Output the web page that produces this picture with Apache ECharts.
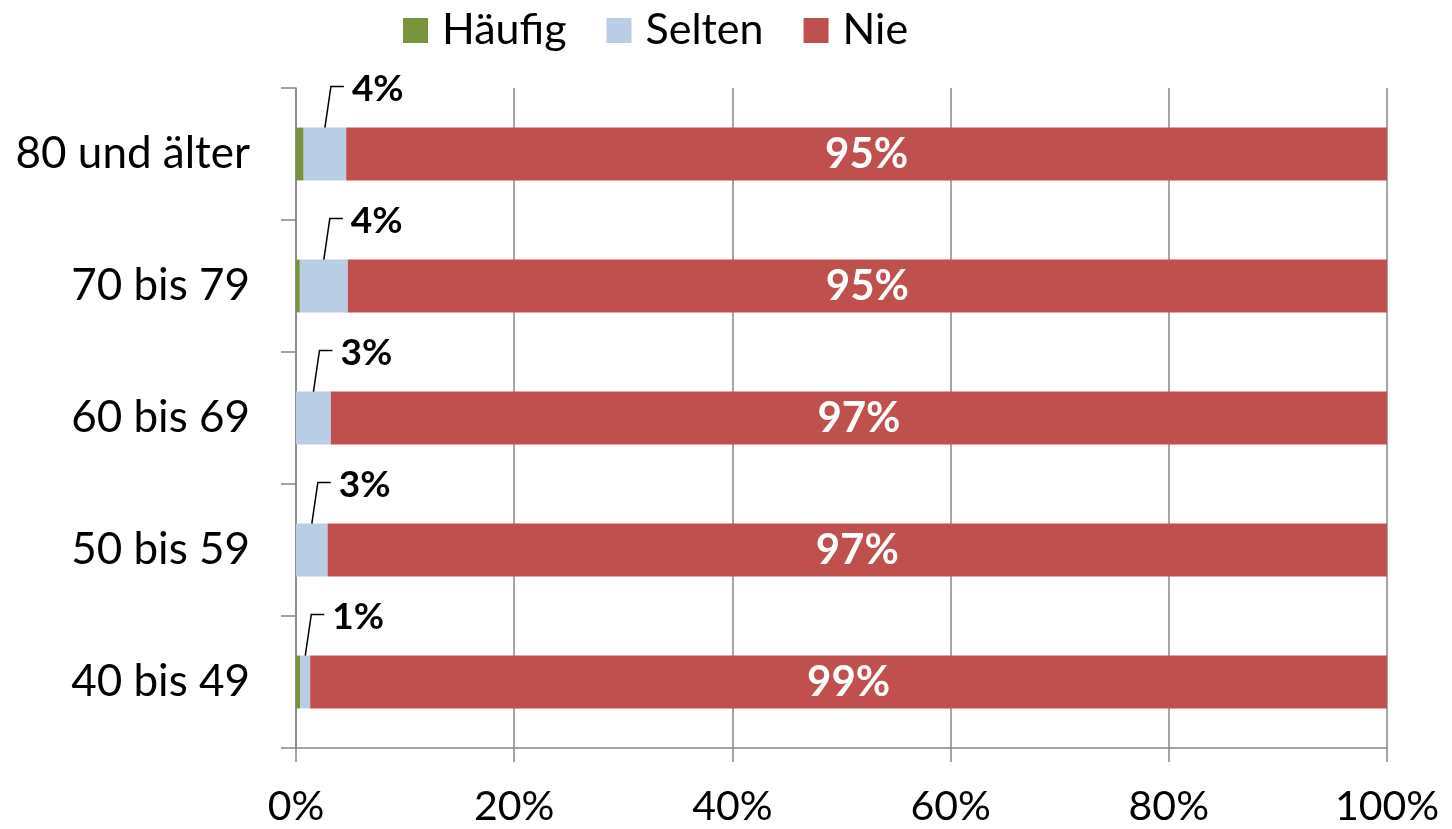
<!DOCTYPE html>
<html>
<head>
<meta charset="utf-8">
<script src="https://cdn.jsdelivr.net/npm/echarts@6/dist/echarts.min.js"></script>
<style>
html,body{margin:0;padding:0;background:#fff;}
#chart{width:1452px;height:829px;}
</style>
</head>
<body>
<div id="chart"></div>
<script>
// Categories listed bottom to top
const categories = ['40 bis 49', '50 bis 59', '60 bis 69', '70 bis 79', '80 und älter'];
const seriesNames = ['Häufig', 'Selten', 'Nie'];
const haeufig = [0.4, 0, 0, 0.35, 0.7];
const selten = [0.9, 2.9, 3.2, 4.4, 3.9];
const nie = [98.7, 97.1, 96.8, 95.25, 95.4];
const xTicks = [0, 20, 40, 60, 80, 100];

const FONT = 'Lato, "Open Sans", sans-serif';
const GRID_C = '#868686';

const seltenLabelData = categories.map((c, i) => [i, haeufig[i], haeufig[i] + selten[i], selten[i]]);

const chart = echarts.init(document.getElementById('chart'));
chart.setOption({
  animation: false,
  textStyle: { fontFamily: FONT },
  legend: {
    top: 4,
    left: 398,
    itemWidth: 25,
    itemHeight: 25,
    itemGap: 40,
    icon: 'rect',
    textStyle: { fontSize: 43, color: '#000', fontFamily: FONT, padding: [0, 0, 0, 9] },
    data: seriesNames
  },
  grid: { left: 296, right: 65, top: 88, bottom: 81, containLabel: false },
  xAxis: {
    type: 'value',
    min: xTicks[0],
    max: xTicks[xTicks.length - 1],
    interval: 20,
    axisLine: { show: true, lineStyle: { color: GRID_C, width: 1.5 } },
    axisTick: { show: true, length: 14, lineStyle: { color: GRID_C, width: 1.5 } },
    splitLine: { show: true, lineStyle: { color: GRID_C, width: 1.5 } },
    axisLabel: { formatter: '{value}%', fontSize: 41, color: '#000', margin: 38, fontFamily: FONT }
  },
  yAxis: {
    type: 'category',
    data: categories,
    axisLine: { show: true, lineStyle: { color: GRID_C, width: 1.5 } },
    axisTick: { show: true, length: 15, alignWithLabel: false, lineStyle: { color: GRID_C, width: 1.5 } },
    axisLabel: { fontSize: 44, color: '#000', margin: 46, fontFamily: FONT }
  },
  series: [
    {
      name: 'Häufig', type: 'bar', stack: 'a', barCategoryGap: '60%',
      itemStyle: { color: '#77933C' }, data: haeufig
    },
    {
      name: 'Selten', type: 'bar', stack: 'a', barCategoryGap: '60%',
      itemStyle: { color: '#B9CDE5' }, data: selten
    },
    {
      name: 'Nie', type: 'bar', stack: 'a', barCategoryGap: '60%',
      itemStyle: { color: '#C0504D' }, data: nie,
      label: {
        show: true, position: 'inside', color: '#fff', fontWeight: 'bold',
        fontSize: 42, fontFamily: FONT,
        formatter: p => Math.round(p.value) + '%'
      }
    },
    {
      name: 'SeltenLabel', type: 'custom', silent: true, z: 10,
      encode: { x: [1, 2], y: 0 },
      data: seltenLabelData,
      renderItem: function (params, api) {
        const cat = api.value(0);
        const s = api.value(1), e = api.value(2);
        const p = api.coord([(s + e) / 2, cat]);
        const h = api.size([0, 1])[1] * 0.4;
        const top = p[1] - h / 2;
        const rise = 41;
        return {
          type: 'group',
          children: [
            {
              type: 'polyline',
              shape: { points: [[p[0], top], [p[0] + 6, top - rise], [p[0] + 19, top - rise]] },
              style: { stroke: '#000', lineWidth: 1.5, fill: null }
            },
            {
              type: 'text',
              x: p[0] + 27, y: top - rise + 2,
              style: {
                text: Math.round(api.value(3)) + '%',
                fill: '#000', font: 'bold 37px ' + FONT,
                verticalAlign: 'middle', align: 'left'
              }
            }
          ]
        };
      }
    }
  ]
});
</script>
</body>
</html>
